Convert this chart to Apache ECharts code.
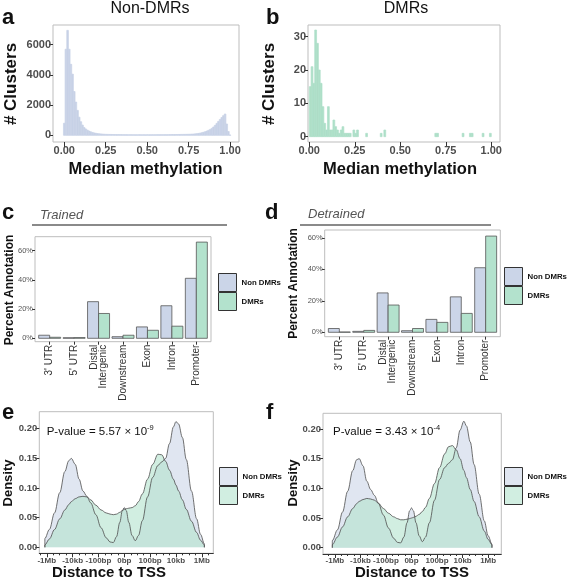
<!DOCTYPE html>
<html><head><meta charset="utf-8">
<script src="https://cdn.jsdelivr.net/npm/echarts@6/dist/echarts.min.js"></script>
<style>html,body{margin:0;padding:0;background:#fff}#c{width:567px;height:580px}</style>
</head><body><div id="c"></div>
<script>
// ---------------- DATA ----------------
// Histograms (bin width 0.01)
const histBinWidth = 0.01;
const histA_firstCenter = 0.0;      // Non-DMRs: bins centred at 0.00, 0.01, ...
const histA_counts = [
  800,5700,6950,5700,4700,4050,2900,2200,1650,1200,
  900,680,520,420,340,280,230,190,160,135,
  115,100,90,80,72,65,60,58,55,53,
  50,48,46,45,44,42,41,40,39,38,
  38,37,36,36,35,35,35,34,34,34,
  34,34,35,35,36,36,37,38,38,39,
  40,41,42,43,45,46,48,50,52,54,
  56,58,60,62,65,68,72,78,86,96,
  110,125,145,170,200,235,280,330,390,460,
  550,660,790,920,1050,1180,1300,1410,750,250,
  20
];
const histB_firstCenter = 0.005;    // DMRs: bins [0,0.01), [0.01,0.02), ...
const histB_counts = [
  15,21,16,32,28,20,16,9,4,2,
  9,2,2,5,3,2,1,2,3,1,
  1,1,1,0,2,1,2,0,0,0,
  0,1,0,0,0,0,0,0,0,1,
  0,2,0,0,0,0,0,0,0,0,
  0,0,0,0,0,0,0,0,0,0,
  0,0,0,0,0,0,0,0,0,1,
  1,0,0,0,0,0,0,0,0,0,
  0,0,0,0,1,0,0,0,1,1,
  0,0,0,0,0,1,0,0,0,1
];

// Annotation bar charts
const annotCategories = ["3' UTR", "5' UTR", "Distal\nIntergenic", "Downstream", "Exon", "Intron", "Promoter"];
const trainedNonDMR   = [2.1, 0.4, 25.1, 1.1, 7.8, 22.3, 41.1];
const trainedDMR      = [0.7, 0.5, 17.0, 2.1, 5.5, 8.3, 65.9];
const detrainedNonDMR = [2.4, 0.6, 25.0, 1.0, 8.2, 22.5, 41.0];
const detrainedDMR    = [0.2, 1.2, 17.3, 2.4, 6.3, 12.0, 61.1];
const pctTicks = [0, 20, 40, 60];

// Density vs distance to TSS (signed log10 distance)
const tssTickValues = [-6, -4, -2, 0, 2, 4, 6];
const tssTickLabels = ['-1Mb', '-10kb', '-100bp', '0bp', '100bp', '10kb', '1Mb'];
const tssMinorTicks = [-6.5,-5.5,-5,-4.5,-3.5,-3,-2.5,-1.5,-1,-0.5,0.5,1,1.5,2.5,3,3.5,4.5,5,5.5,6.5];
const densTicks = [0, 0.05, 0.10, 0.15, 0.20];

const densE_x = [-6.15,-5.8,-5.4,-5.0,-4.6,-4.3,-4.1,-3.8,-3.5,-3.2,-2.9,-2.6,-2.2,-1.8,-1.4,-1.1,-0.85,-0.6,-0.35,-0.15,0,0.15,0.35,0.6,0.85,1.1,1.4,1.8,2.2,2.6,2.9,3.2,3.5,3.8,4.0,4.2,4.5,4.8,5.2,5.6,5.9,6.2];
const densE_non = [0.015,0.03,0.058,0.092,0.128,0.146,0.150,0.140,0.115,0.095,0.086,0.075,0.055,0.033,0.016,0.009,0.008,0.018,0.042,0.062,0.067,0.062,0.042,0.020,0.011,0.020,0.045,0.085,0.118,0.138,0.144,0.150,0.175,0.203,0.212,0.208,0.185,0.148,0.095,0.048,0.022,0.006];
const densE_dmr = [0.004,0.014,0.030,0.048,0.063,0.072,0.077,0.082,0.085,0.086,0.085,0.080,0.071,0.063,0.058,0.056,0.055,0.056,0.059,0.062,0.064,0.065,0.066,0.067,0.070,0.077,0.090,0.115,0.140,0.157,0.156,0.145,0.130,0.115,0.105,0.095,0.080,0.064,0.044,0.025,0.012,0.004];

const densF_x = [-6.2,-5.8,-5.4,-5.0,-4.6,-4.3,-4.1,-3.8,-3.5,-3.2,-2.9,-2.6,-2.2,-1.8,-1.4,-1.1,-0.85,-0.6,-0.35,-0.15,0,0.15,0.35,0.6,0.85,1.1,1.4,1.8,2.2,2.6,2.9,3.2,3.5,3.8,4.1,4.3,4.6,4.9,5.3,5.7,6.0,6.3];
const densF_non = [0.012,0.03,0.06,0.095,0.13,0.148,0.150,0.138,0.112,0.098,0.088,0.075,0.055,0.033,0.016,0.009,0.008,0.018,0.042,0.062,0.067,0.062,0.042,0.020,0.010,0.018,0.042,0.080,0.115,0.135,0.142,0.148,0.168,0.198,0.213,0.205,0.178,0.140,0.090,0.045,0.020,0.006];
const densF_dmr = [0.005,0.018,0.035,0.052,0.066,0.074,0.078,0.081,0.083,0.082,0.080,0.075,0.066,0.058,0.052,0.049,0.047,0.047,0.048,0.049,0.050,0.051,0.053,0.056,0.061,0.068,0.083,0.108,0.135,0.158,0.170,0.172,0.165,0.150,0.130,0.118,0.098,0.078,0.052,0.028,0.014,0.005];

// ---------------- STYLE ----------------
const FONT = 'Liberation Sans, Arial, Helvetica, sans-serif';
const C_NON = '#CBD5E8', C_DMR = '#B3E2CD';
const C_NON_A = '#e0e6f1', C_DMR_A = '#d1eee1';
const FRAME = '#bdbdbd', TICK = '#333', LBL = '#4d4d4d';

const chart = echarts.init(document.getElementById('c'), null, {renderer: 'canvas'});

function histSeries(name, firstCenter, counts, color, axisIdx) {
  const data = [];
  counts.forEach((c, i) => { if (c > 0) data.push([firstCenter + i * histBinWidth, c]); });
  return {
    type: 'custom', name, xAxisIndex: axisIdx, yAxisIndex: axisIdx, encode: {x: 0, y: 1}, data,
    renderItem: function (params, api) {
      const x = api.value(0), y = api.value(1);
      const p0 = api.coord([x - histBinWidth / 2, y]);
      const p1 = api.coord([x + histBinWidth / 2, 0]);
      return {type: 'rect', shape: {x: p0[0], y: p0[1], width: p1[0] - p0[0], height: p1[1] - p0[1]},
              style: {fill: color, stroke: color, lineWidth: 0.7}};
    }
  };
}
function barSeries(name, values, color, offset, xIdx, yIdx) {
  return {
    type: 'custom', name, xAxisIndex: xIdx, yAxisIndex: yIdx, encode: {x: 0, y: 1},
    data: values.map((v, i) => [i + 1, v]),
    itemStyle: {color},
    renderItem: function (params, api) {
      const x = api.value(0), y = api.value(1);
      const p0 = api.coord([x + offset, y]);
      const p1 = api.coord([x + offset + 0.45, 0]);
      return {type: 'rect', shape: {x: p0[0], y: p0[1], width: p1[0] - p0[0], height: p1[1] - p0[1]},
              style: {fill: color, stroke: '#555', lineWidth: 0.8}};
    }
  };
}
function densSeries(name, xs, ys, color, xIdx, yIdx) {
  const data = [[xs[0], 0]].concat(xs.map((x, i) => [x, ys[i]])).concat([[xs[xs.length - 1], 0]]);
  return {
    type: 'line', name, xAxisIndex: xIdx, yAxisIndex: yIdx, data,
    smooth: 0.35, smoothMonotone: 'x', showSymbol: false, symbol: 'none',
    lineStyle: {color: '#4d4d4d', width: 0.8},
    itemStyle: {color},
    areaStyle: {color, opacity: 0.6, origin: 0}
  };
}
function valAxis(gridIndex, min, max, vals, fmt, o) {
  o = o || {};
  return Object.assign({
    type: 'value', gridIndex, min, max, splitLine: {show: false},
    axisLine: {show: !!o.line, onZero: false, lineStyle: {color: TICK, width: 1}},
    axisTick: {show: true, inside: false, length: o.tickLen || 4, customValues: vals, lineStyle: {color: TICK, width: 1}},
    axisLabel: {show: o.noLabel ? false : true, customValues: vals, formatter: fmt, margin: o.margin || 2,
      fontFamily: FONT, fontSize: o.fontSize || 11, fontWeight: o.fontWeight || 'bold', color: o.color || LBL,
      rotate: o.rotate || 0, lineHeight: o.lineHeight}
  }, o.extra || {});
}
const gridStyle = {show: true, borderColor: FRAME, borderWidth: 1, backgroundColor: 'transparent', containLabel: false};

function legend(left, top, cNon, cDmr) {
  return {
    orient: 'vertical', left, top, padding: 0, itemGap: 0, itemWidth: 18, itemHeight: 18,
    icon: 'rect', selectedMode: false,
    textStyle: {fontFamily: FONT, fontSize: 7.8, fontWeight: 'bold', color: '#111', overflow: 'none'},
    data: [
      {name: 'Non DMRs', icon: 'rect', itemStyle: {color: cNon, borderColor: '#333', borderWidth: 1}},
      {name: 'DMRs', icon: 'rect', itemStyle: {color: cDmr, borderColor: '#333', borderWidth: 1}}
    ]
  };
}

function txt(text, x, y, font, o) {
  o = o || {};
  return {type: 'text', x, y, rotation: o.rot || 0, z: 100,
    style: {text, fill: o.fill || '#111', font, textAlign: o.align || 'center',
      textVerticalAlign: 'middle', verticalAlign: 'middle', rich: o.rich}};
}
const fmtFix2 = v => v.toFixed(2);
const fmtPct = v => Math.round(v) + '%';
const fmtTss = v => tssTickLabels[tssTickValues.indexOf(Math.round(v))];
const fmtCat = v => annotCategories[Math.round(v) - 1];
const pRich = {a: {fontSize: 11.5, lineHeight: 16, fontFamily: FONT, color: '#222'},
               s: {fontSize: 7.5, fontFamily: FONT, color: '#222', verticalAlign: 'top'}};
const LETTER = 'bold 22px ' + FONT;
const catLabel = {tickLen: 3, margin: 3, fontSize: 10, fontWeight: 'normal', color: '#333', rotate: 90, lineHeight: 9};

const option = {
  animation: false,
  backgroundColor: '#fff',
  grid: [
    Object.assign({left: 53, top: 25, width: 186, height: 117}, gridStyle),
    Object.assign({left: 308, top: 25, width: 192, height: 117}, gridStyle),
    Object.assign({left: 35, top: 236.7, width: 176, height: 105}, gridStyle),
    Object.assign({left: 324.7, top: 230, width: 175.6, height: 106.7}, gridStyle),
    Object.assign({left: 39.3, top: 411.7, width: 174, height: 141.6}, gridStyle),
    Object.assign({left: 323, top: 413.3, width: 178.3, height: 140.7}, gridStyle)
  ],
  xAxis: [
    valAxis(0, -0.068, 1.054, [0, 0.25, 0.5, 0.75, 1], fmtFix2, {tickLen: 5, margin: 3}),
    valAxis(1, -0.007, 1.048, [0, 0.25, 0.5, 0.75, 1], fmtFix2, {tickLen: 5, margin: 3}),
    valAxis(2, 0.4, 7.6, [1, 2, 3, 4, 5, 6, 7], fmtCat, catLabel),
    valAxis(3, 0.4, 7.6, [1, 2, 3, 4, 5, 6, 7], fmtCat, catLabel),
    valAxis(4, -6.58, 6.89, tssTickValues, fmtTss, {tickLen: 4, margin: 3, fontSize: 8, line: true}),
    valAxis(4, -6.58, 6.89, tssMinorTicks, fmtTss, {tickLen: 2, noLabel: true, extra: {position: 'bottom', offset: 0}}),
    valAxis(5, -6.93, 7.03, tssTickValues, fmtTss, {tickLen: 4, margin: 3, fontSize: 8, line: true}),
    valAxis(5, -6.93, 7.03, tssMinorTicks, fmtTss, {tickLen: 2, noLabel: true, extra: {position: 'bottom', offset: 0}})
  ],
  yAxis: [
    valAxis(0, -444, 7305, [0, 2000, 4000, 6000], v => String(v), {tickLen: 4, margin: 2}),
    valAxis(1, -1.6, 33.5, [0, 10, 20, 30], v => String(v), {tickLen: 4, margin: 2}),
    valAxis(2, -2.33, 69.6, pctTicks, fmtPct, {tickLen: 3, margin: 2, fontSize: 7.5, fontWeight: 'normal', color: '#555'}),
    valAxis(3, -2.8, 64.95, pctTicks, fmtPct, {tickLen: 3, margin: 2, fontSize: 7.5, fontWeight: 'normal', color: '#555'}),
    valAxis(4, -0.0101, 0.2287, densTicks, fmtFix2, {tickLen: 4, margin: 2, fontSize: 9.5}),
    valAxis(5, -0.0106, 0.2263, densTicks, fmtFix2, {tickLen: 4, margin: 2, fontSize: 9.5})
  ],
  legend: [
    legend(218, 273, C_NON, C_DMR),
    legend(504, 267, C_NON, C_DMR),
    legend(219, 467, C_NON_A, C_DMR_A),
    legend(504, 467, C_NON_A, C_DMR_A)
  ],
  series: [
    barSeries('Non DMRs', trainedNonDMR, C_NON, -0.45, 2, 2),
    barSeries('DMRs', trainedDMR, C_DMR, 0, 2, 2),
    barSeries('Non DMRs', detrainedNonDMR, C_NON, -0.45, 3, 3),
    barSeries('DMRs', detrainedDMR, C_DMR, 0, 3, 3),
    histSeries('Non-DMRs histogram', histA_firstCenter, histA_counts, '#c8d2e7', 0),
    histSeries('DMRs histogram', histB_firstCenter, histB_counts, '#aedfc8', 1),
    densSeries('Non DMRs', densE_x, densE_non, C_NON, 4, 4),
    densSeries('DMRs', densE_x, densE_dmr, C_DMR, 4, 4),
    densSeries('Non DMRs', densF_x, densF_non, C_NON, 6, 5),
    densSeries('DMRs', densF_x, densF_dmr, C_DMR, 6, 5)
  ],
  graphic: [
    txt('a', 2, 17.5, LETTER, {align: 'left'}),
    txt('b', 266, 17.5, LETTER, {align: 'left'}),
    txt('c', 2, 212.5, LETTER, {align: 'left'}),
    txt('d', 265, 212.5, LETTER, {align: 'left'}),
    txt('e', 2, 412.5, LETTER, {align: 'left'}),
    txt('f', 266, 412.5, LETTER, {align: 'left'}),
    txt('Non-DMRs', 150, 9, '16px ' + FONT),
    txt('DMRs', 406, 9, '16px ' + FONT),
    txt('# Clusters', 11.5, 84, 'bold 17px ' + FONT, {rot: Math.PI / 2}),
    txt('# Clusters', 269.5, 84, 'bold 17px ' + FONT, {rot: Math.PI / 2}),
    txt('Median methylation', 145.5, 169.5, 'bold 16.5px ' + FONT),
    txt('Median methylation', 400, 169.5, 'bold 16.5px ' + FONT),
    txt('Trained', 40, 215, 'italic 13px ' + FONT, {align: 'left', fill: '#555'}),
    txt('Detrained', 308, 214, 'italic 13px ' + FONT, {align: 'left', fill: '#555'}),
    {type: 'line', shape: {x1: 32, y1: 225, x2: 227, y2: 225}, style: {stroke: '#8a8a8a', lineWidth: 2}},
    {type: 'line', shape: {x1: 300, y1: 225, x2: 491, y2: 225}, style: {stroke: '#8a8a8a', lineWidth: 2}},
    txt('Percent Annotation', 10, 290, 'bold 12px ' + FONT, {rot: Math.PI / 2}),
    txt('Percent Annotation', 294, 283.5, 'bold 12px ' + FONT, {rot: Math.PI / 2}),
    txt('Density', 8, 483, 'bold 13px ' + FONT, {rot: Math.PI / 2}),
    txt('Density', 293, 483, 'bold 13px ' + FONT, {rot: Math.PI / 2}),
    txt('Distance to TSS', 109, 573, 'bold 15px ' + FONT),
    txt('Distance to TSS', 412, 573, 'bold 15px ' + FONT),
    txt('{a|P-value = 5.57 \u00d7 10}{s|-9}', 46.7, 431.7, '11.5px ' + FONT, {align: 'left', rich: pRich}),
    txt('{a|P-value = 3.43 \u00d7 10}{s|-4}', 333, 431.7, '11.5px ' + FONT, {align: 'left', rich: pRich})
  ]
};
chart.setOption(option);
</script>
</body></html>
